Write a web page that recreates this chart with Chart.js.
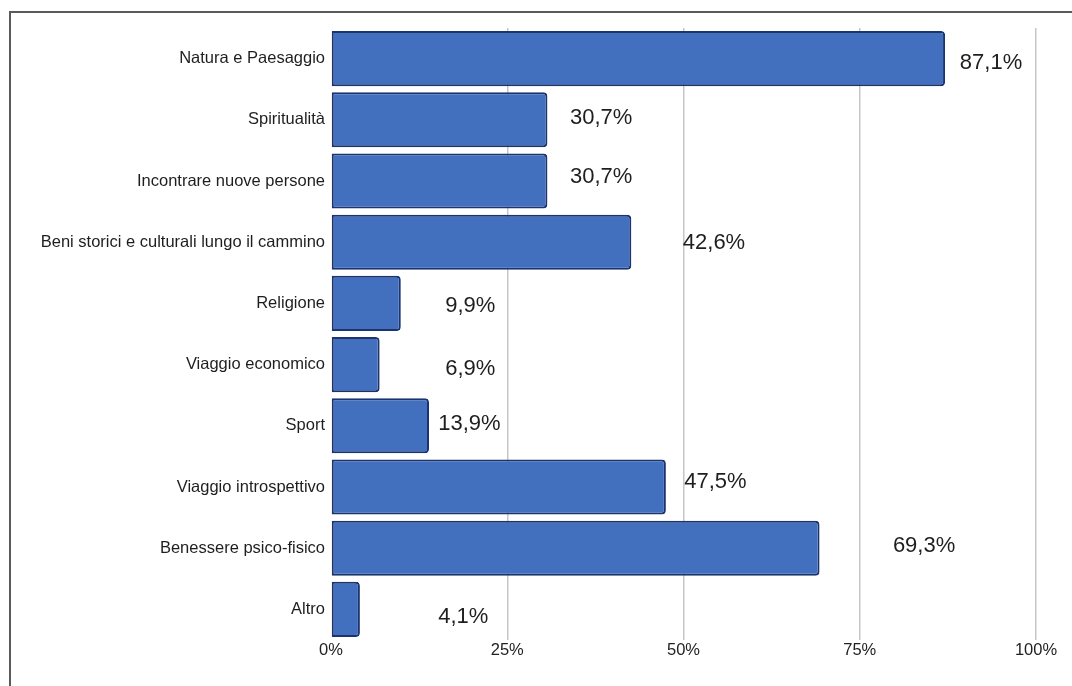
<!DOCTYPE html>
<html lang="it">
<head>
    <meta charset="UTF-8">
    <script src="https://cdn.jsdelivr.net/npm/chart.js"></script>
    <title>Motivazioni del cammino</title>
    <style>
        body { margin: 0; background: #fff; }
        #frame {
            position: absolute; left: 9px; top: 11px; right: 0; bottom: 0;
            border-top: 2px solid #5a5a5a; border-left: 2px solid #5a5a5a;
        }
        #motivChart { position: absolute; left: 0; top: 0; }
    </style>
</head>
<body>
<div id="frame"></div>
<canvas id="motivChart" width="1072" height="686"></canvas>

<script>
        // Categories, top to bottom
        const categories = [
            'Natura e Paesaggio',
            'Spiritualità',
            'Incontrare nuove persone',
            'Beni storici e culturali lungo il cammino',
            'Religione',
            'Viaggio economico',
            'Sport',
            'Viaggio introspettivo',
            'Benessere psico-fisico',
            'Altro'
        ];

        // Share of respondents (%)
        const percentages = [87.1, 30.7, 30.7, 42.6, 9.9, 6.9, 13.9, 47.5, 69.3, 4.1];

        // x-axis ticks
        const tickValues = [0, 25, 50, 75, 100];

        // where each value label sits: left edge in axis units, vertical nudge in px
        const labelAt = [89.2, 33.9, 33.9, 49.9, 16.2, 16.2, 15.2, 50.1, 79.7, 15.2];
        const labelNudge = [4, -2, -4, 1, 3, 4, -2, -5, -2, 8];

        const fmt = v => v.toFixed(1).replace('.', ',') + '%';

        // value labels drawn beside the bars
        const valueLabels = {
            id: 'valueLabels',
            afterDatasetsDraw(chart) {
                const { ctx, scales: { x } } = chart;
                const meta = chart.getDatasetMeta(0);
                ctx.save();
                ctx.font = '22px "Liberation Sans", Arial, sans-serif';
                ctx.fillStyle = '#1e1e1e';
                ctx.textAlign = 'left';
                ctx.textBaseline = 'middle';
                meta.data.forEach((bar, i) => {
                    ctx.fillText(fmt(percentages[i]), x.getPixelForValue(labelAt[i]), bar.y + labelNudge[i]);
                });
                ctx.restore();
            }
        };

        const ctx = document.getElementById('motivChart').getContext('2d');

        const motivChart = new Chart(ctx, {
            type: 'bar',
            data: {
                labels: categories,
                datasets: [{
                    data: percentages,
                    backgroundColor: '#436fbf',
                    borderColor: '#1b3470',
                    borderWidth: 2,
                    borderSkipped: false,
                    borderRadius: { topLeft: 0, bottomLeft: 0, topRight: 4, bottomRight: 4 },
                    barPercentage: 0.9,
                    categoryPercentage: 1.0
                }]
            },
            options: {
                indexAxis: 'y',
                responsive: false,
                animation: false,
                layout: { padding: { top: 28, right: 36, bottom: 0, left: 0 } },
                plugins: {
                    legend: { display: false },
                    tooltip: { enabled: false }
                },
                scales: {
                    x: {
                        min: 0,
                        max: 100,
                        afterBuildTicks: scale => {
                            scale.ticks = tickValues.map(v => ({ value: v }));
                        },
                        afterFit: scale => { scale.height = 46; },
                        border: { display: false },
                        grid: {
                            drawTicks: false,
                            lineWidth: 1.5,
                            color: c => c.tick && c.tick.value === 0 ? 'rgba(0,0,0,0)' : '#c6c6c6'
                        },
                        ticks: {
                            padding: 1,
                            color: '#222',
                            font: { family: '"Liberation Sans", Arial, sans-serif', size: 16.5 },
                            callback: v => v + '%'
                        }
                    },
                    y: {
                        afterFit: scale => { scale.width = 331; },
                        border: { display: false },
                        grid: { display: false, drawTicks: false },
                        ticks: {
                            padding: 6,
                            color: '#1e1e1e',
                            font: { family: '"Liberation Sans", Arial, sans-serif', size: 16.5 }
                        }
                    }
                }
            },
            plugins: [valueLabels]
        });
</script>
</body>
</html>
